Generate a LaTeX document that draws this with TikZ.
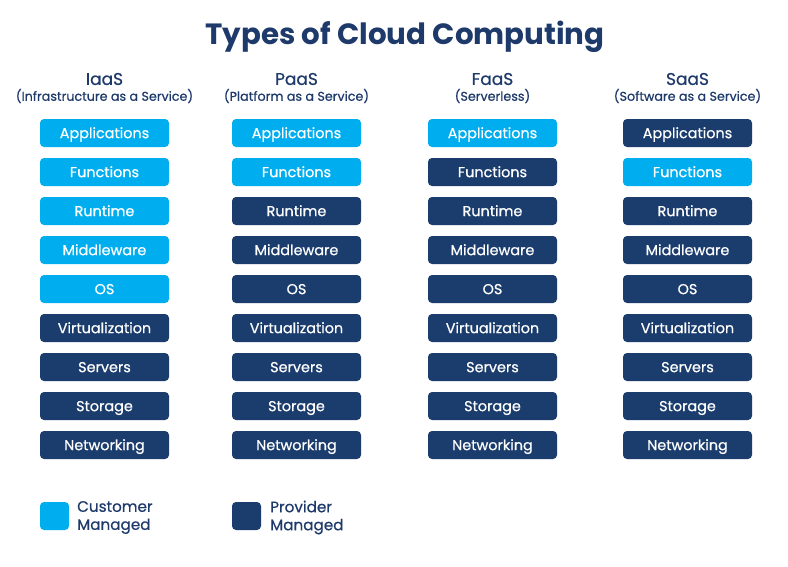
\documentclass[tikz,border=0pt]{standalone}
\usepackage{fontspec}
\setmainfont{Poppins}
\newfontfamily\med[FakeBold=0.6]{Poppins}
\definecolor{cust}{HTML}{00AEEF}
\definecolor{prov}{HTML}{1B3D6E}
\definecolor{titlec}{HTML}{1E3A6B}
\begin{document}
\begin{tikzpicture}[x=1pt,y=-1pt,
  layerbox/.style={draw=none,rounded corners=4pt,minimum width=129pt,minimum height=28pt,inner sep=0pt,text height=10.3pt,text depth=0pt,text=white,font=\med\fontsize{14.4}{16}\selectfont},
  custbox/.style={layerbox,fill=cust},
  provbox/.style={layerbox,fill=prov},
  head/.style={text=titlec,font=\med\fontsize{17}{20}\selectfont,inner sep=0pt},
  sub/.style={text=titlec,font=\med\fontsize{12.7}{14}\selectfont,inner sep=0pt},
  legsq/.style={draw=none,rounded corners=4pt,minimum width=29pt,minimum height=28pt,inner sep=0pt},
  legtext/.style={text=titlec,font=\med\fontsize{15.2}{18}\selectfont,align=left,anchor=west,inner sep=0pt}]
\useasboundingbox (0,0) rectangle (788,566);
\fill[white] (0,0) rectangle (788,566);
\node[text=titlec,font=\bfseries\fontsize{29.3}{34}\selectfont,inner sep=0pt] (title) at (405,36.5) {Types of Cloud Computing};
% headers
\node[head] (h1) at (104.5,79) {IaaS};
\node[sub]  (s1) at (104.5,96) {(Infrastructure as a Service)};
\node[head] (h2) at (296.5,79) {PaaS};
\node[sub]  (s2) at (296.5,96) {(Platform as a Service)};
\node[head] (h3) at (492.5,79) {FaaS};
\node[sub]  (s3) at (492.5,96) {(Serverless)};
\node[head] (h4) at (687.5,79) {SaaS};
\node[sub]  (s4) at (687.5,96) {(Software as a Service)};
% layers
\foreach \lab [count=\r] in {Applications,Functions,Runtime,Middleware,OS,Virtualization,Servers,Storage,Networking}{
  \pgfmathsetmacro{\yy}{133+39*(\r-1)}
  % IaaS
  \ifnum\r<6 \def\sty{custbox}\else\def\sty{provbox}\fi
  \node[\sty] (a\r) at (104.5,\yy) {\lab};
  % PaaS
  \ifnum\r<3 \def\sty{custbox}\else\def\sty{provbox}\fi
  \node[\sty] (b\r) at (296.5,\yy) {\lab};
  % FaaS
  \ifnum\r<2 \def\sty{custbox}\else\def\sty{provbox}\fi
  \node[\sty] (c\r) at (492.5,\yy) {\lab};
  % SaaS
  \ifnum\r=2 \def\sty{custbox}\else\def\sty{provbox}\fi
  \node[\sty] (d\r) at (687.5,\yy) {\lab};
}
% legend
\node[legsq,fill=cust] (lc) at (54.5,516) {};
\node[legtext] (lct) at (77,517.5) {Customer\\Managed};
\node[legsq,fill=prov] (lp) at (246.5,516) {};
\node[legtext] (lpt) at (270,517.5) {Provider\\Managed};
\end{tikzpicture}
\end{document}
